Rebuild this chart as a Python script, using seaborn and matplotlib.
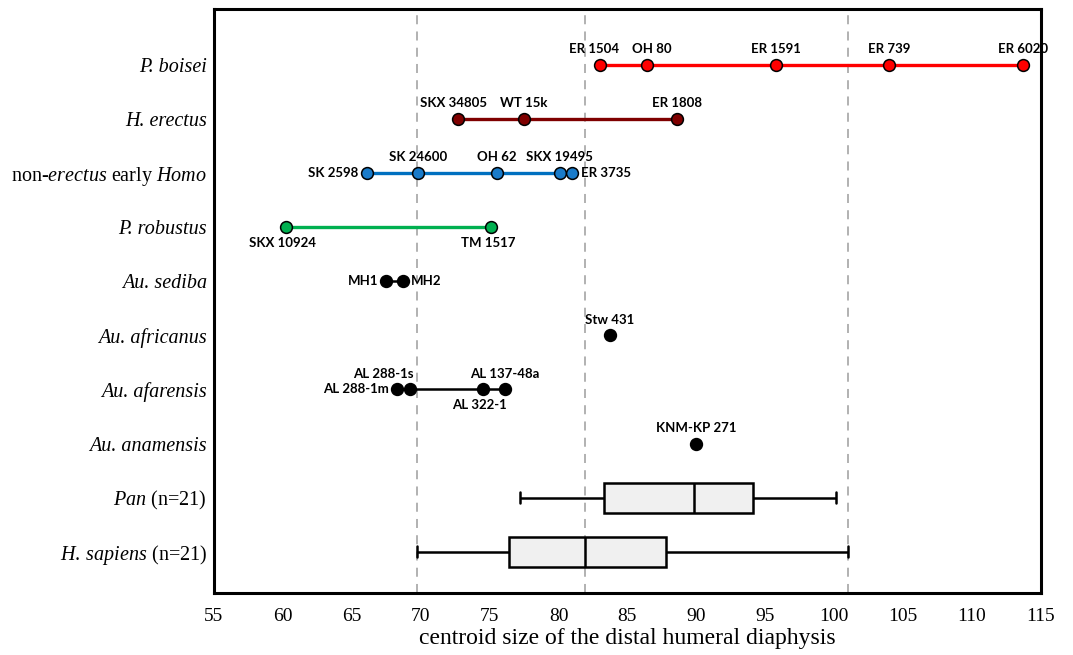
import numpy as np
import pandas as pd
import matplotlib
matplotlib.use("Agg")
import matplotlib.pyplot as plt
import seaborn as sns

# ---------------- data ----------------
rows = ["P. boisei", "H. erectus", "non-erectus early Homo", "P. robustus",
        "Au. sediba", "Au. africanus", "Au. afarensis", "Au. anamensis",
        "Pan (n=21)", "H. sapiens (n=21)"]
row_labels = ["P. boisei", "H. erectus",
              r"non-$\mathit{erectus}$ early $\mathit{Homo}$", "P. robustus",
              "Au. sediba", "Au. africanus",
              "Au. afarensis", "Au. anamensis",
              r"$\mathit{Pan}$ (n=21)", r"$\mathit{H.\:sapiens}$ (n=21)"]
italic_rows = ["P. boisei", "H. erectus", "P. robustus", "Au. sediba",
               "Au. africanus", "Au. afarensis", "Au. anamensis"]

boisei_names = ["ER 1504", "OH 80", "ER 1591", "ER 739", "ER 6020"]
boisei_vals = [83.0, 86.4, 95.8, 104.0, 113.7]
erectus_names = ["SKX 34805", "WT 15k", "ER 1808"]
erectus_vals = [72.7, 77.5, 88.6]
early_homo_names = ["SK 2598", "SK 24600", "OH 62", "SKX 19495", "ER 3735"]
early_homo_vals = [66.1, 69.8, 75.5, 80.1, 81.0]
robustus_names = ["SKX 10924", "TM 1517"]
robustus_vals = [60.2, 75.1]
sediba_names = ["MH1", "MH2"]
sediba_vals = [67.5, 68.7]
africanus_names = ["Stw 431"]
africanus_vals = [83.7]
afarensis_names = ["AL 288-1m", "AL 288-1s", "AL 322-1", "AL 137-48a"]
afarensis_vals = [68.3, 69.2, 74.5, 76.1]
anamensis_names = ["KNM-KP 271"]
anamensis_vals = [90.0]

# five-number summaries (min, Q1, median, Q3, max)
pan_summary = [77.2, 83.3, 89.8, 94.1, 100.1]
sapiens_summary = [69.7, 76.4, 81.9, 87.8, 101.0]

ref_lines = [69.7, 81.9, 101.0]
x_ticks = list(range(55, 116, 5))
x_label = "centroid size of the distal humeral diaphysis"

# ---------------- style ----------------
sns.set_style("white")
plt.rcParams["font.family"] = ["Liberation Serif", "DejaVu Serif"]
plt.rcParams["mathtext.fontset"] = "custom"
plt.rcParams["mathtext.rm"] = "Liberation Serif"
plt.rcParams["mathtext.it"] = "Liberation Serif:italic"
plt.rcParams["mathtext.bf"] = "Liberation Serif:bold"
for k in ["text.color", "axes.labelcolor", "xtick.color", "ytick.color"]:
    plt.rcParams[k] = "black"

fig = plt.figure(figsize=(10.73, 6.55), dpi=100)
ax = fig.add_axes([0.1994, 0.0947, 0.7707, 0.8916])

for xv in ref_lines:
    ax.axvline(xv, color="#ABABAB", lw=1.3, ls=(0, (5, 4)), zorder=0)

box_df = pd.DataFrame({
    "group": ["Pan (n=21)"] * len(pan_summary) + ["H. sapiens (n=21)"] * len(sapiens_summary),
    "value": pan_summary + sapiens_summary,
})
sns.boxplot(data=box_df, x="value", y="group", order=rows, orient="h",
            whis=(0, 100), width=0.56, color="#F0F0F0", saturation=1,
            linecolor="black", linewidth=1.8, fliersize=0, ax=ax, zorder=2)

# shorten whisker caps
for ln in ax.lines:
    xd = np.asarray(ln.get_xdata(), dtype=float)
    yd = np.asarray(ln.get_ydata(), dtype=float)
    if len(xd) == 2 and xd[0] == xd[1] and abs(yd[1] - yd[0]) < 0.45:
        c = yd.mean()
        ln.set_ydata([c - 0.1, c + 0.1])

groups = [
    (boisei_names, boisei_vals, "P. boisei", "#FF0000", "#FF0000", 2.4),
    (erectus_names, erectus_vals, "H. erectus", "#7F0000", "#7F0000", 2.4),
    (early_homo_names, early_homo_vals, "non-erectus early Homo", "#0070C0", "#1A7BC9", 2.4),
    (robustus_names, robustus_vals, "P. robustus", "#00B050", "#00B050", 2.4),
    (sediba_names, sediba_vals, "Au. sediba", "black", "black", 1.8),
    (africanus_names, africanus_vals, "Au. africanus", "black", "black", 1.8),
    (afarensis_names, afarensis_vals, "Au. afarensis", "black", "black", 1.8),
    (anamensis_names, anamensis_vals, "Au. anamensis", "black", "black", 1.8),
]

placement = {
    "SK 2598": "left", "ER 3735": "right",
    "SKX 10924": "below", "TM 1517": "below",
    "MH1": "left", "MH2": "right",
    "AL 288-1m": "left", "AL 288-1s": "above_left", "AL 322-1": "below",
}
nudge = {"ER 1504": -4, "OH 80": 4, "SKX 34805": -3}

lbl_font = dict(family=["Lato", "DejaVu Sans"], weight="bold", fontsize=9.5, color="black")

for names, vals, row, lc, mc, lw in groups:
    ypos = rows.index(row)
    d = pd.DataFrame({"x": vals, "y": [ypos] * len(vals)})
    sns.lineplot(data=d, x="x", y="y", estimator=None, sort=False, color=lc, lw=lw,
                 marker="o", markersize=8.5, markerfacecolor=mc, markeredgecolor="black",
                 markeredgewidth=1.1, ax=ax, zorder=4, legend=False)
    for nm, v in zip(names, vals):
        pos = placement.get(nm, "above")
        dx = nudge.get(nm, 0)
        if pos == "above":
            ax.annotate(nm, (v, ypos), xytext=(dx, 7), textcoords="offset points",
                        ha="center", va="bottom", **lbl_font)
        elif pos == "above_left":
            ax.annotate(nm, (v, ypos), xytext=(3, 7), textcoords="offset points",
                        ha="right", va="bottom", **lbl_font)
        elif pos == "below":
            ax.annotate(nm, (v, ypos), xytext=(-2, -7), textcoords="offset points",
                        ha="center", va="top", **lbl_font)
        elif pos == "left":
            ax.annotate(nm, (v, ypos), xytext=(-6, 0), textcoords="offset points",
                        ha="right", va="center", **lbl_font)
        elif pos == "right":
            ax.annotate(nm, (v, ypos), xytext=(6, 0), textcoords="offset points",
                        ha="left", va="center", **lbl_font)

ax.set_xlim(55, 115)
ax.set_ylim(9.76, -1.03)
ax.set_xticks(x_ticks)
ax.set_xticklabels([str(t) for t in x_ticks], fontsize=14)
ax.set_yticks(range(len(rows)))
ax.set_yticklabels(row_labels, fontsize=14.5)
for row, tl in zip(rows, ax.get_yticklabels()):
    if row in italic_rows:
        tl.set_fontstyle("italic")
ax.set_xlabel(x_label, fontsize=17, labelpad=2)
ax.set_ylabel("")
ax.tick_params(axis="x", direction="out", length=6, width=2, pad=5)
ax.tick_params(axis="y", length=0, pad=5)
for sp in ax.spines.values():
    sp.set_visible(True)
    sp.set_color("black")
    sp.set_linewidth(2.2)

fig.savefig("out.png", dpi=100)
